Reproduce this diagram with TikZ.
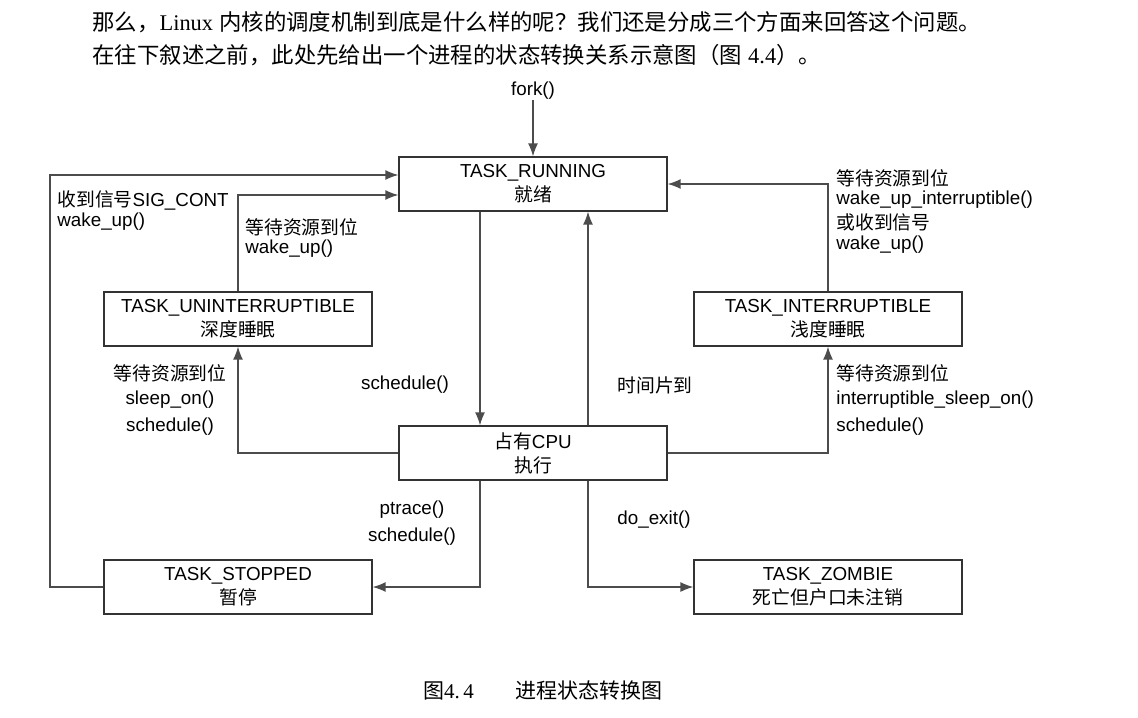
\documentclass[tikz,border=0pt]{standalone}
\usepackage{fontspec}
\setmainfont{Liberation Sans}
\newfontfamily\zhfont{Noto Sans CJK SC}
\newfontfamily\latinserif{Liberation Serif}
\usetikzlibrary{positioning, arrows.meta}

\begin{document}
\begin{tikzpicture}[
		x=0.5pt, y=-0.5pt,
		state/.style={draw=black!80, line width=0.6pt, minimum width=134pt, minimum height=27pt, inner sep=0pt, align=center, font=\fontsize{9.4}{12}\selectfont},
		lbl/.style={inner sep=0pt, font=\fontsize{9.4}{11}\selectfont},
		flow/.style={-{Latex[length=6.5pt,width=5pt]}, draw=black!70, line width=0.7pt},
	]
	\useasboundingbox (0,0) rectangle (1138,717);
	% intro text
	\node[anchor=west, inner sep=0pt, font=\fontsize{11.2}{13}\selectfont] (introA) at (92,22) {{\zhfont 那么，}{\latinserif Linux} {\zhfont 内核的调度机制到底是什么样的呢？我们还是分成三个方面来回答这个问题。}};
	\node[anchor=west, inner sep=0pt, font=\fontsize{11.2}{13}\selectfont] (introB) at (92,55) {{\zhfont 在往下叙述之前，此处先给出一个进程的状态转换关系示意图（图} {\latinserif 4.4}{\zhfont ）。}};
	% states
	\node[state] (run) at (533,184) {TASK\_RUNNING\\{\zhfont 就绪}};
	\node[state] (unint) at (238,319) {TASK\_UNINTERRUPTIBLE\\{\zhfont 深度睡眠}};
	\node[state] (inter) at (828,319) {TASK\_INTERRUPTIBLE\\{\zhfont 浅度睡眠}};
	\node[state] (cpu) at (533,453) {{\zhfont 占有}CPU\\{\zhfont 执行}};
	\node[state] (stop) at (238,587) {TASK\_STOPPED\\{\zhfont 暂停}};
	\node[state] (zomb) at (828,587) {TASK\_ZOMBIE\\{\zhfont 死亡但户口未注销}};
	\node[lbl] (fork) at (533,91) {fork()};
	\coordinate (outer) at (50,175);
	% transitions
	\draw[flow] (fork) -- (run);
	\draw[flow] (stop.west) -| (outer) -- (outer -| run.west);
	\draw[flow] (unint.north) |- ([yshift=-5.5pt]run.west);
	\draw[flow] (inter.north) |- (run.east);
	\draw[flow] ([xshift=-26.5pt]run.south) -- ([xshift=-26.5pt]cpu.north);
	\draw[flow] ([xshift=27.5pt]cpu.north) -- ([xshift=27.5pt]run.south);
	\draw[flow] (cpu.west) -| (unint.south);
	\draw[flow] (cpu.east) -| (inter.south);
	\draw[flow] ([xshift=-26.5pt]cpu.south) |- (stop.east);
	\draw[flow] ([xshift=27.5pt]cpu.south) |- (zomb.west);
	% labels
	\node[lbl, anchor=west] (sigA) at (57,200) {{\zhfont 收到信号}SIG\_CONT};
	\node[lbl, anchor=west] (sigB) at (57,222) {wake\_up()};
	\node[lbl, anchor=west] (wakeA) at (245,227) {\zhfont 等待资源到位};
	\node[lbl, anchor=west] (wakeB) at (245,249) {wake\_up()};
	\node[lbl, anchor=west] (iwakeA) at (836,178) {\zhfont 等待资源到位};
	\node[lbl, anchor=west] (iwakeB) at (836,200) {wake\_up\_interruptible()};
	\node[lbl, anchor=west] (iwakeC) at (836,222) {\zhfont 或收到信号};
	\node[lbl, anchor=west] (iwakeD) at (836,245) {wake\_up()};
	\node[lbl] (sched) at (405,385) {schedule()};
	\node[lbl, anchor=west] (slice) at (617,385) {\zhfont 时间片到};
	\node[lbl] (sleepA) at (170,373) {\zhfont 等待资源到位};
	\node[lbl] (sleepB) at (170,400) {sleep\_on()};
	\node[lbl] (sleepC) at (170,427) {schedule()};
	\node[lbl, anchor=west] (isleepA) at (836,373) {\zhfont 等待资源到位};
	\node[lbl, anchor=west] (isleepB) at (836,400) {interruptible\_sleep\_on()};
	\node[lbl, anchor=west] (isleepC) at (836,427) {schedule()};
	\node[lbl] (traceA) at (412,510) {ptrace()};
	\node[lbl] (traceB) at (412,537) {schedule()};
	\node[lbl, anchor=west] (exit) at (617,520) {do\_exit()};
	% caption
	\node[inner sep=0pt, font=\fontsize{10.5}{12}\selectfont] (caption) at (543,690) {{\zhfont 图}{\latinserif 4.\,4}\quad\quad{\zhfont 进程状态转换图}};
\end{tikzpicture}
\end{document}
